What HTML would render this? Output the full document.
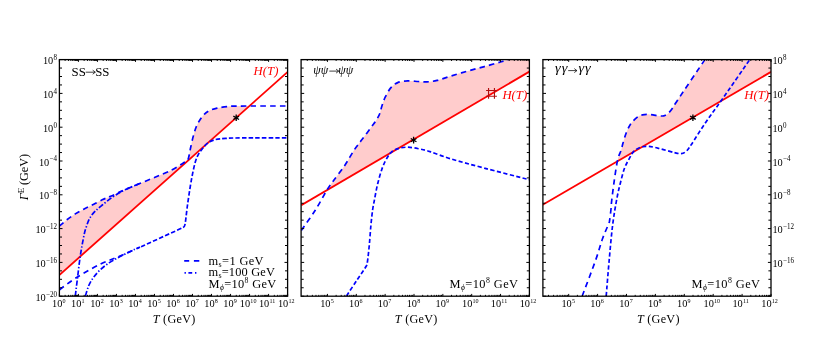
<!DOCTYPE html>
<html><head><meta charset="utf-8"><title>Rates</title>
<style>
html,body{margin:0;padding:0;background:#fff;}
body{width:830px;height:356px;position:relative;overflow:hidden;font-family:"Liberation Serif",serif;}
</style></head><body>
<svg width="830" height="356" viewBox="0 0 830 356" style="position:absolute;left:0;top:0;will-change:transform;opacity:0.999">
<defs>
<clipPath id="c0"><rect x="59.40" y="59.60" width="228.20" height="236.60"/></clipPath>
<clipPath id="c1"><rect x="301.10" y="59.60" width="228.30" height="236.60"/></clipPath>
<clipPath id="c2"><rect x="542.90" y="59.60" width="228.10" height="236.60"/></clipPath>
<clipPath id="c0a"><rect x="50" y="50" width="88" height="260"/></clipPath><clipPath id="c0b"><rect x="138" y="50" width="160" height="260"/></clipPath>
</defs>
<g clip-path="url(#c0)">
<path d="M59.30 226.10 L59.66 225.79 L60.12 225.41 L60.65 224.96 L61.24 224.45 L61.89 223.90 L62.58 223.32 L63.29 222.72 L64.03 222.10 L64.77 221.49 L65.50 220.90 L66.21 220.33 L66.90 219.80 L67.57 219.29 L68.25 218.78 L68.94 218.27 L69.64 217.76 L70.34 217.25 L71.05 216.75 L71.76 216.25 L72.47 215.76 L73.18 215.28 L73.89 214.81 L74.60 214.35 L75.30 213.90 L76.00 213.46 L76.70 213.04 L77.40 212.63 L78.10 212.23 L78.79 211.83 L79.49 211.44 L80.19 211.06 L80.89 210.69 L81.59 210.31 L82.29 209.94 L83.00 209.57 L83.70 209.20 L84.40 208.84 L85.09 208.48 L85.78 208.14 L86.47 207.80 L87.16 207.47 L87.85 207.13 L88.55 206.80 L89.25 206.46 L89.97 206.11 L90.70 205.75 L91.44 205.38 L92.20 205.00 L92.99 204.60 L93.80 204.17 L94.63 203.73 L95.48 203.28 L96.34 202.82 L97.21 202.36 L98.07 201.90 L98.93 201.44 L99.78 201.00 L100.61 200.58 L101.42 200.18 L102.20 199.80 L102.93 199.46 L103.61 199.16 L104.25 198.89 L104.86 198.64 L105.46 198.40 L106.07 198.16 L106.69 197.92 L107.35 197.66 L108.05 197.38 L108.82 197.07 L109.66 196.71 L110.60 196.30 L111.60 195.85 L112.63 195.38 L113.71 194.88 L114.82 194.36 L115.98 193.81 L117.19 193.24 L118.47 192.64 L119.80 192.02 L121.21 191.38 L122.69 190.71 L124.25 190.02 L125.90 189.30 L127.67 188.54 L129.60 187.73 L131.64 186.88 L133.78 185.99 L135.99 185.08 L138.24 184.15 L140.51 183.22 L142.77 182.29 L145.00 181.37 L147.16 180.48 L149.24 179.62 L151.20 178.80 L153.09 178.01 L154.96 177.24 L156.81 176.48 L158.63 175.73 L160.41 175.00 L162.16 174.28 L163.85 173.57 L165.49 172.88 L167.07 172.19 L168.59 171.52 L170.03 170.85 L171.40 170.20 L172.69 169.55 L173.91 168.89 L175.07 168.24 L176.16 167.60 L177.20 166.96 L178.18 166.34 L179.10 165.74 L179.97 165.17 L180.79 164.62 L181.57 164.11 L182.31 163.63 L183.00 163.20 L183.64 162.83 L184.20 162.52 L184.71 162.27 L185.16 162.06 L185.55 161.87 L185.91 161.71 L186.24 161.54 L186.53 161.37 L186.81 161.17 L187.08 160.93 L187.34 160.65 L187.60 160.30 L187.85 159.89 L188.07 159.45 L188.26 158.96 L188.43 158.45 L188.58 157.91 L188.71 157.36 L188.83 156.79 L188.95 156.22 L189.06 155.65 L189.17 155.08 L189.28 154.53 L189.40 154.00 L189.52 153.49 L189.62 153.02 L189.71 152.55 L189.80 152.10 L189.88 151.65 L189.96 151.19 L190.04 150.71 L190.13 150.21 L190.22 149.68 L190.33 149.10 L190.46 148.48 L190.60 147.80 L190.76 147.05 L190.94 146.24 L191.12 145.38 L191.32 144.47 L191.52 143.53 L191.74 142.57 L191.96 141.59 L192.18 140.62 L192.41 139.65 L192.64 138.70 L192.87 137.78 L193.10 136.90 L193.33 136.04 L193.56 135.18 L193.80 134.33 L194.04 133.48 L194.28 132.64 L194.53 131.81 L194.78 130.99 L195.04 130.19 L195.30 129.41 L195.56 128.65 L195.83 127.91 L196.10 127.20 L196.38 126.52 L196.65 125.87 L196.93 125.24 L197.21 124.63 L197.50 124.05 L197.79 123.48 L198.08 122.92 L198.39 122.37 L198.70 121.82 L199.02 121.28 L199.36 120.74 L199.70 120.20 L200.06 119.65 L200.43 119.10 L200.81 118.55 L201.20 118.00 L201.60 117.46 L202.01 116.93 L202.43 116.41 L202.84 115.91 L203.26 115.42 L203.67 114.96 L204.09 114.51 L204.50 114.10 L204.90 113.71 L205.29 113.35 L205.67 113.02 L206.06 112.70 L206.44 112.41 L206.82 112.12 L207.22 111.86 L207.63 111.60 L208.06 111.34 L208.51 111.10 L208.99 110.85 L209.50 110.60 L210.03 110.35 L210.59 110.11 L211.16 109.88 L211.75 109.66 L212.36 109.44 L212.98 109.23 L213.62 109.02 L214.29 108.82 L214.96 108.63 L215.66 108.45 L216.37 108.27 L217.10 108.10 L217.85 107.94 L218.62 107.78 L219.41 107.63 L220.22 107.49 L221.05 107.36 L221.89 107.23 L222.74 107.11 L223.61 106.99 L224.50 106.88 L225.39 106.78 L226.29 106.69 L227.20 106.60 L228.01 106.52 L228.64 106.45 L229.17 106.38 L229.64 106.33 L230.13 106.28 L230.69 106.23 L231.38 106.20 L232.27 106.16 L233.42 106.13 L234.88 106.10 L236.72 106.08 L239.00 106.05 L241.92 106.03 L245.54 106.01 L249.72 105.68 L254.30 101.61 L259.14 97.30 L264.09 92.90 L268.99 88.54 L273.71 84.35 L278.08 80.45 L281.97 76.99 L285.23 74.10 L287.70 71.90 L287.70 71.90 L59.30 275.07 Z" fill="#ffcccc" stroke="none"/>
<path d="M59.60 274.80 L287.70 71.90" fill="none" stroke="#ff0000" stroke-width="1.80"/>
<g clip-path="url(#c0a)"><path d="M59.60 289.70 C62.50 287.62 70.17 281.48 77.00 277.20 C83.83 272.92 93.85 267.35 100.60 264.00 C107.35 260.65 110.20 260.23 117.50 257.10 C124.80 253.97 135.65 249.13 144.40 245.20 C153.15 241.27 163.60 236.43 170.00 233.50 C176.40 230.57 180.33 229.02 182.80 227.60 C185.27 226.18 184.33 226.17 184.80 225.00 C185.27 223.83 185.15 223.93 185.60 220.60 C186.05 217.27 186.68 210.93 187.50 205.00 C188.32 199.07 189.60 190.47 190.50 185.00 C191.40 179.53 192.10 176.03 192.90 172.20 C193.70 168.37 194.47 164.82 195.30 162.00 C196.13 159.18 196.82 157.38 197.90 155.30 C198.98 153.22 200.23 151.48 201.80 149.50 C203.37 147.52 205.17 145.02 207.30 143.40 C209.43 141.78 211.55 140.63 214.60 139.80 C217.65 138.97 220.95 138.72 225.60 138.40 C230.25 138.08 232.15 137.98 242.50 137.90 C252.85 137.82 280.17 137.90 287.70 137.90" fill="none" stroke="#0000ff" stroke-width="1.70" stroke-dasharray="5.5 4.2"/></g>
<g clip-path="url(#c0b)"><path d="M59.60 289.70 C62.50 287.62 70.17 281.48 77.00 277.20 C83.83 272.92 93.85 267.35 100.60 264.00 C107.35 260.65 110.20 260.23 117.50 257.10 C124.80 253.97 135.65 249.13 144.40 245.20 C153.15 241.27 163.60 236.43 170.00 233.50 C176.40 230.57 180.33 229.02 182.80 227.60 C185.27 226.18 184.33 226.17 184.80 225.00 C185.27 223.83 185.15 223.93 185.60 220.60 C186.05 217.27 186.68 210.93 187.50 205.00 C188.32 199.07 189.60 190.47 190.50 185.00 C191.40 179.53 192.10 176.03 192.90 172.20 C193.70 168.37 194.47 164.82 195.30 162.00 C196.13 159.18 196.82 157.38 197.90 155.30 C198.98 153.22 200.23 151.48 201.80 149.50 C203.37 147.52 205.17 145.02 207.30 143.40 C209.43 141.78 211.55 140.63 214.60 139.80 C217.65 138.97 220.95 138.72 225.60 138.40 C230.25 138.08 232.15 137.98 242.50 137.90 C252.85 137.82 280.17 137.90 287.70 137.90" fill="none" stroke="#0000ff" stroke-width="1.70" stroke-dasharray="4.5 2.1"/></g>
<path d="M85.40 296.00 C85.97 294.25 87.40 288.67 88.80 285.50 C90.20 282.33 91.83 279.67 93.80 277.00 C95.77 274.33 98.07 271.85 100.60 269.50 C103.13 267.15 106.18 264.82 109.00 262.90 C111.82 260.98 114.67 259.55 117.50 258.00 C120.33 256.45 123.08 255.07 126.00 253.60 C128.92 252.13 132.67 250.30 135.00 249.20 C137.33 248.10 139.17 247.37 140.00 247.00" fill="none" stroke="#0000ff" stroke-width="1.70" stroke-dasharray="5.2 1.9 1.4 1.9"/>
<path d="M75.30 296.00 C75.67 293.00 76.65 284.80 77.50 278.00 C78.35 271.20 79.30 262.38 80.40 255.20 C81.50 248.02 83.12 239.62 84.10 234.90 C85.08 230.18 85.38 229.63 86.30 226.90 C87.22 224.17 88.20 221.03 89.60 218.50 C91.00 215.97 92.58 213.95 94.70 211.70 C96.82 209.45 99.35 207.42 102.30 205.00 C105.25 202.58 109.03 199.53 112.40 197.20 C115.77 194.87 119.57 192.62 122.50 191.00 C125.43 189.38 127.08 188.77 130.00 187.50 C132.92 186.23 138.33 184.08 140.00 183.40" fill="none" stroke="#0000ff" stroke-width="1.70" stroke-dasharray="5.2 1.9 1.4 1.9"/>
<path d="M59.30 226.10 C60.57 225.05 64.23 221.83 66.90 219.80 C69.57 217.77 72.50 215.67 75.30 213.90 C78.10 212.13 80.88 210.68 83.70 209.20 C86.52 207.72 89.12 206.57 92.20 205.00 C95.28 203.43 99.13 201.25 102.20 199.80 C105.27 198.35 106.65 198.05 110.60 196.30 C114.55 194.55 119.13 192.22 125.90 189.30 C132.67 186.38 143.62 181.98 151.20 178.80 C158.78 175.62 166.10 172.80 171.40 170.20 C176.70 167.60 180.30 164.85 183.00 163.20 C185.70 161.55 186.53 161.83 187.60 160.30 C188.67 158.77 188.90 156.08 189.40 154.00 C189.90 151.92 189.98 150.65 190.60 147.80 C191.22 144.95 192.18 140.33 193.10 136.90 C194.02 133.47 195.00 129.98 196.10 127.20 C197.20 124.42 198.30 122.38 199.70 120.20 C201.10 118.02 202.87 115.70 204.50 114.10 C206.13 112.50 207.40 111.60 209.50 110.60 C211.60 109.60 214.15 108.77 217.10 108.10 C220.05 107.43 223.55 106.94 227.20 106.60 C230.85 106.26 228.92 106.15 239.00 106.05 C249.08 105.95 279.58 106.01 287.70 106.00" fill="none" stroke="#0000ff" stroke-width="1.70" stroke-dasharray="5.5 4.2"/>
</g>
<g clip-path="url(#c1)">
<path d="M301.30 205.20 L301.99 204.80 L302.86 204.29 L303.89 203.68 L305.04 203.01 L306.29 202.28 L307.61 201.50 L308.97 200.71 L310.35 199.90 L311.71 199.10 L313.02 198.34 L314.26 197.61 L315.40 196.94 L316.48 196.31 L317.57 195.67 L318.65 195.04 L319.72 194.41 L320.78 193.79 L321.81 193.19 L322.82 192.60 L323.79 192.03 L324.72 191.48 L325.60 190.97 L326.43 190.48 L327.20 189.60 L327.88 188.50 L328.46 187.59 L328.95 186.83 L329.39 186.19 L329.78 185.63 L330.15 185.12 L330.52 184.63 L330.91 184.12 L331.35 183.55 L331.84 182.90 L332.42 182.13 L333.10 181.20 L333.88 180.13 L334.75 178.96 L335.69 177.72 L336.69 176.40 L337.72 175.03 L338.79 173.62 L339.86 172.19 L340.93 170.76 L341.99 169.32 L343.01 167.91 L343.99 166.53 L344.90 165.20 L345.77 163.89 L346.61 162.56 L347.44 161.23 L348.24 159.90 L349.03 158.57 L349.80 157.25 L350.56 155.95 L351.30 154.68 L352.04 153.44 L352.77 152.25 L353.49 151.10 L354.20 150.00 L354.89 148.98 L355.55 148.03 L356.19 147.15 L356.81 146.32 L357.41 145.52 L358.02 144.74 L358.63 143.97 L359.25 143.18 L359.89 142.36 L360.56 141.50 L361.26 140.59 L362.00 139.60 L362.81 138.52 L363.68 137.35 L364.60 136.11 L365.56 134.83 L366.53 133.51 L367.51 132.19 L368.48 130.89 L369.42 129.62 L370.32 128.40 L371.16 127.27 L371.92 126.22 L372.60 125.30 L373.19 124.49 L373.71 123.78 L374.17 123.14 L374.59 122.58 L374.95 122.07 L375.29 121.60 L375.59 121.16 L375.88 120.74 L376.16 120.33 L376.43 119.91 L376.71 119.47 L377.00 119.00 L377.29 118.52 L377.57 118.06 L377.83 117.62 L378.08 117.18 L378.32 116.75 L378.54 116.33 L378.76 115.89 L378.98 115.45 L379.19 115.00 L379.39 114.52 L379.60 114.03 L379.80 113.50 L380.00 112.95 L380.18 112.38 L380.35 111.80 L380.51 111.20 L380.66 110.58 L380.82 109.96 L380.98 109.32 L381.14 108.67 L381.31 108.01 L381.49 107.35 L381.69 106.68 L381.90 106.00 L382.13 105.31 L382.36 104.61 L382.59 103.90 L382.83 103.18 L383.08 102.45 L383.34 101.71 L383.61 100.97 L383.89 100.22 L384.19 99.47 L384.51 98.71 L384.84 97.95 L385.20 97.20 L385.58 96.43 L385.97 95.63 L386.39 94.82 L386.81 93.99 L387.26 93.16 L387.72 92.33 L388.19 91.52 L388.67 90.72 L389.17 89.96 L389.67 89.22 L390.18 88.54 L390.70 87.90 L391.22 87.31 L391.75 86.74 L392.28 86.21 L392.81 85.70 L393.36 85.23 L393.92 84.77 L394.50 84.35 L395.10 83.95 L395.71 83.58 L396.35 83.23 L397.01 82.90 L397.70 82.60 L398.42 82.32 L399.17 82.08 L399.95 81.87 L400.75 81.68 L401.57 81.52 L402.41 81.38 L403.26 81.26 L404.13 81.16 L404.99 81.08 L405.86 81.01 L406.73 80.95 L407.60 80.90 L408.48 80.87 L409.37 80.87 L410.29 80.89 L411.21 80.94 L412.15 81.00 L413.08 81.07 L414.01 81.15 L414.93 81.23 L415.83 81.31 L416.72 81.38 L417.57 81.45 L418.40 81.50 L419.19 81.55 L419.94 81.60 L420.67 81.66 L421.37 81.72 L422.06 81.78 L422.74 81.83 L423.42 81.88 L424.10 81.91 L424.80 81.94 L425.51 81.95 L426.24 81.93 L427.00 81.90 L427.78 81.85 L428.56 81.79 L429.34 81.72 L430.13 81.64 L430.93 81.55 L431.74 81.44 L432.57 81.32 L433.43 81.18 L434.30 81.02 L435.20 80.83 L436.13 80.63 L437.10 80.40 L438.10 80.14 L439.11 79.85 L440.16 79.54 L441.22 79.20 L442.31 78.84 L443.43 78.47 L444.56 78.08 L445.72 77.69 L446.91 77.29 L448.11 76.89 L449.35 76.49 L450.60 76.10 L451.89 75.71 L453.22 75.30 L454.59 74.89 L455.99 74.47 L457.41 74.04 L458.84 73.61 L460.29 73.18 L461.75 72.76 L463.20 72.33 L464.65 71.91 L466.08 71.50 L467.50 71.10 L468.90 70.71 L470.30 70.32 L471.70 69.95 L473.10 69.57 L474.50 69.20 L475.90 68.84 L477.30 68.47 L478.70 68.10 L480.10 67.73 L481.50 67.36 L482.90 66.98 L484.30 66.60 L485.74 66.20 L487.23 65.79 L488.76 65.36 L490.30 64.93 L491.85 64.49 L493.38 64.06 L494.88 63.63 L496.32 63.22 L497.69 62.82 L498.97 62.45 L500.15 62.11 L501.20 61.80 L502.11 61.53 L502.89 61.29 L503.56 61.09 L504.14 60.91 L504.64 60.74 L505.10 60.59 L505.53 60.45 L505.94 60.30 L506.37 60.15 L506.82 59.99 L507.33 59.81 L507.90 59.60 L508.55 59.36 L509.26 59.10 L510.02 58.82 L510.80 58.52 L511.59 58.22 L512.37 57.91 L513.13 57.62 L513.85 57.34 L514.51 57.08 L515.10 56.85 L515.60 56.65 L516.00 56.50 L516.00 49.60 L529.40 49.60 L529.40 71.60 L301.30 205.20 Z" fill="#ffcccc" stroke="none"/>
<path d="M301.30 205.20 L529.40 71.60" fill="none" stroke="#ff0000" stroke-width="1.80"/>
<path d="M346.50 296.00 C348.25 293.33 353.75 284.92 357.00 280.00 C360.25 275.08 364.27 269.50 366.00 266.50 C367.73 263.50 366.85 265.58 367.40 262.00 C367.95 258.42 368.72 251.12 369.30 245.00 C369.88 238.88 370.35 231.13 370.90 225.30 C371.45 219.47 372.03 214.12 372.60 210.00 C373.17 205.88 373.45 204.98 374.30 200.60 C375.15 196.22 376.30 189.32 377.70 183.70 C379.10 178.08 381.02 171.40 382.70 166.90 C384.38 162.40 386.38 159.13 387.80 156.70 C389.22 154.27 389.52 153.65 391.20 152.30 C392.88 150.95 395.10 149.45 397.90 148.60 C400.70 147.75 404.35 147.13 408.00 147.20 C411.65 147.27 416.13 148.27 419.80 149.00 C423.47 149.73 424.87 149.97 430.00 151.60 C435.13 153.23 441.55 156.05 450.60 158.80 C459.65 161.55 471.65 164.73 484.30 168.10 C496.95 171.47 518.98 177.05 526.50 179.00 C534.02 180.95 528.92 179.67 529.40 179.80" fill="none" stroke="#0000ff" stroke-width="1.70" stroke-dasharray="4.2 2.4"/>
<path d="M301.30 230.40 C303.65 227.00 311.08 216.80 315.40 210.00 C319.72 203.20 324.25 194.40 327.20 189.60 C330.15 184.80 330.15 185.27 333.10 181.20 C336.05 177.13 341.38 170.40 344.90 165.20 C348.42 160.00 351.35 154.27 354.20 150.00 C357.05 145.73 358.93 143.72 362.00 139.60 C365.07 135.48 370.10 128.73 372.60 125.30 C375.10 121.87 375.80 120.97 377.00 119.00 C378.20 117.03 378.98 115.67 379.80 113.50 C380.62 111.33 381.00 108.72 381.90 106.00 C382.80 103.28 383.73 100.22 385.20 97.20 C386.67 94.18 388.62 90.33 390.70 87.90 C392.78 85.47 394.88 83.77 397.70 82.60 C400.52 81.43 404.15 81.08 407.60 80.90 C411.05 80.72 415.17 81.33 418.40 81.50 C421.63 81.67 423.88 82.08 427.00 81.90 C430.12 81.72 433.17 81.37 437.10 80.40 C441.03 79.43 445.53 77.65 450.60 76.10 C455.67 74.55 461.88 72.68 467.50 71.10 C473.12 69.52 478.68 68.15 484.30 66.60 C489.92 65.05 497.27 62.97 501.20 61.80 C505.13 60.63 505.43 60.48 507.90 59.60 C510.37 58.72 514.65 57.02 516.00 56.50" fill="none" stroke="#0000ff" stroke-width="1.70" stroke-dasharray="5.5 4.2"/>
</g>
<g clip-path="url(#c2)">
<path d="M582.20 181.81 L582.87 181.41 L583.75 180.91 L584.78 180.30 L585.95 179.62 L587.21 178.89 L588.52 178.12 L589.87 177.34 L591.20 176.57 L592.48 175.82 L593.68 175.12 L594.77 174.49 L595.70 173.95 L596.50 173.48 L597.23 173.06 L597.89 172.67 L598.49 172.32 L599.04 172.00 L599.56 171.70 L600.06 171.41 L600.53 171.13 L601.01 170.86 L601.48 170.58 L601.98 170.29 L602.50 169.99 L603.05 169.67 L603.62 169.34 L604.19 169.00 L604.77 168.66 L605.35 168.33 L605.91 168.00 L606.46 167.69 L606.97 167.39 L607.45 167.11 L607.89 166.85 L608.27 166.63 L608.60 166.44 L608.86 166.29 L609.06 166.17 L609.20 166.09 L609.30 166.03 L609.36 165.99 L609.40 165.97 L609.42 165.96 L609.43 165.95 L609.45 165.94 L609.48 165.93 L609.52 165.90 L609.60 165.86 L609.70 165.80 L609.81 165.74 L609.92 165.67 L610.03 165.61 L610.15 165.54 L610.26 165.47 L610.38 165.40 L610.49 165.34 L610.60 165.27 L610.71 165.21 L610.81 165.15 L610.90 165.10 L610.98 165.05 L611.04 165.02 L611.09 164.99 L611.14 164.96 L611.18 164.94 L611.22 164.91 L611.26 164.89 L611.32 164.86 L611.39 164.82 L611.47 164.77 L611.57 164.71 L611.70 164.63 L611.85 164.54 L612.02 164.45 L612.21 164.34 L612.41 164.22 L612.62 164.10 L612.84 163.97 L613.08 163.83 L613.31 163.69 L613.56 163.55 L613.81 163.41 L614.05 163.26 L614.30 163.12 L614.55 162.97 L614.81 162.83 L615.07 162.67 L615.34 162.52 L615.61 162.36 L615.89 162.20 L616.17 162.03 L616.45 161.87 L616.74 161.70 L617.02 161.53 L617.31 161.37 L617.60 160.10 L617.90 158.89 L618.21 157.78 L618.53 156.77 L618.85 155.83 L619.18 154.97 L619.51 154.17 L619.83 153.42 L620.14 152.70 L620.43 152.01 L620.71 151.34 L620.97 150.67 L621.20 150.00 L621.40 149.36 L621.56 148.80 L621.70 148.29 L621.81 147.82 L621.91 147.38 L622.01 146.96 L622.10 146.53 L622.20 146.08 L622.31 145.60 L622.45 145.07 L622.61 144.47 L622.80 143.80 L623.02 143.05 L623.26 142.22 L623.51 141.35 L623.78 140.43 L624.06 139.47 L624.36 138.49 L624.66 137.51 L624.97 136.52 L625.30 135.54 L625.63 134.59 L625.96 133.67 L626.30 132.80 L626.64 131.96 L626.99 131.12 L627.34 130.29 L627.70 129.48 L628.07 128.67 L628.44 127.88 L628.83 127.10 L629.23 126.34 L629.65 125.60 L630.08 124.88 L630.53 124.18 L631.00 123.50 L631.50 122.84 L632.04 122.18 L632.60 121.53 L633.19 120.90 L633.80 120.28 L634.41 119.69 L635.02 119.12 L635.62 118.58 L636.21 118.08 L636.77 117.61 L637.30 117.18 L637.80 116.80 L638.26 116.47 L638.69 116.19 L639.10 115.96 L639.49 115.76 L639.87 115.60 L640.23 115.47 L640.59 115.36 L640.94 115.26 L641.29 115.17 L641.65 115.09 L642.02 115.00 L642.40 114.90 L642.78 114.80 L643.16 114.71 L643.54 114.63 L643.91 114.56 L644.29 114.50 L644.67 114.44 L645.05 114.40 L645.44 114.36 L645.84 114.34 L646.25 114.32 L646.67 114.30 L647.10 114.30 L647.55 114.31 L648.02 114.33 L648.51 114.36 L649.01 114.40 L649.51 114.45 L650.02 114.51 L650.54 114.57 L651.05 114.63 L651.55 114.70 L652.05 114.77 L652.53 114.84 L653.00 114.90 L653.46 114.97 L653.91 115.04 L654.36 115.12 L654.80 115.20 L655.24 115.29 L655.68 115.38 L656.10 115.46 L656.52 115.54 L656.93 115.62 L657.33 115.69 L657.72 115.75 L658.10 115.80 L658.47 115.84 L658.83 115.88 L659.19 115.92 L659.53 115.94 L659.87 115.97 L660.19 115.99 L660.51 116.00 L660.83 116.01 L661.13 116.02 L661.43 116.02 L661.72 116.01 L662.00 116.00 L662.27 115.99 L662.51 115.98 L662.74 115.98 L662.96 115.97 L663.17 115.96 L663.38 115.94 L663.59 115.91 L663.80 115.87 L664.03 115.81 L664.27 115.73 L664.52 115.63 L664.80 115.50 L665.10 115.35 L665.41 115.20 L665.73 115.04 L666.06 114.86 L666.41 114.66 L666.76 114.44 L667.12 114.21 L667.48 113.94 L667.85 113.66 L668.23 113.34 L668.61 112.99 L669.00 112.60 L669.40 112.17 L669.82 111.68 L670.25 111.15 L670.69 110.59 L671.14 109.99 L671.59 109.38 L672.04 108.76 L672.48 108.14 L672.91 107.52 L673.33 106.92 L673.72 106.34 L674.10 105.80 L674.38 105.39 L674.51 105.18 L674.55 105.09 L674.54 105.07 L674.51 105.06 L674.52 105.00 L674.60 104.82 L674.81 104.46 L675.18 103.86 L675.75 102.96 L676.58 101.69 L677.70 100.00 L679.21 97.74 L681.13 94.87 L683.38 91.53 L685.87 87.83 L688.53 83.88 L691.27 79.82 L694.01 75.75 L696.67 71.81 L699.17 68.10 L701.43 64.75 L703.37 61.88 L704.90 59.60 L706.06 57.87 L706.97 56.53 L707.65 55.52 L708.13 54.80 L708.45 54.32 L708.65 54.03 L708.75 53.87 L708.79 53.81 L708.80 53.79 L708.82 53.77 L708.88 53.69 L709.00 53.50 L709.00 49.60 L771.00 49.60 L771.00 71.90 L582.20 181.81 Z" fill="#ffcccc" stroke="none"/>
<path d="M542.70 204.80 L771.00 71.90" fill="none" stroke="#ff0000" stroke-width="1.80"/>
<path d="M606.20 296.00 C606.70 290.00 608.13 271.78 609.20 260.00 C610.27 248.22 611.33 235.48 612.60 225.30 C613.87 215.12 615.53 205.83 616.80 198.90 C618.07 191.97 618.93 188.77 620.20 183.70 C621.47 178.63 622.87 172.72 624.40 168.50 C625.93 164.28 627.83 161.25 629.40 158.40 C630.97 155.55 631.93 153.27 633.80 151.40 C635.67 149.53 638.07 148.03 640.60 147.20 C643.13 146.37 645.63 146.12 649.00 146.40 C652.37 146.68 656.58 147.87 660.80 148.90 C665.02 149.93 670.92 151.82 674.30 152.60 C677.68 153.38 679.13 153.80 681.10 153.60 C683.07 153.40 684.42 152.88 686.10 151.40 C687.78 149.92 687.88 149.62 691.20 144.70 C694.52 139.78 700.92 129.35 706.00 121.90 C711.08 114.45 714.40 110.38 721.70 100.00 C729.00 89.62 744.38 67.33 749.80 59.60 C755.22 51.87 753.47 54.60 754.20 53.60" fill="none" stroke="#0000ff" stroke-width="1.70" stroke-dasharray="4.2 2.4"/>
<path d="M582.20 296.00 C584.45 290.00 592.32 269.53 595.70 260.00 C599.08 250.47 600.35 244.80 602.50 238.80 C604.65 232.80 607.42 227.05 608.60 224.00 C609.78 220.95 609.22 222.83 609.60 220.50 C609.98 218.17 610.55 213.32 610.90 210.00 C611.25 206.68 611.13 205.53 611.70 200.60 C612.27 195.67 613.32 187.15 614.30 180.40 C615.28 173.65 616.45 165.17 617.60 160.10 C618.75 155.03 620.33 152.72 621.20 150.00 C622.07 147.28 621.95 146.67 622.80 143.80 C623.65 140.93 624.93 136.18 626.30 132.80 C627.67 129.42 629.08 126.17 631.00 123.50 C632.92 120.83 635.90 118.23 637.80 116.80 C639.70 115.37 640.85 115.32 642.40 114.90 C643.95 114.48 645.33 114.30 647.10 114.30 C648.87 114.30 651.17 114.65 653.00 114.90 C654.83 115.15 656.60 115.62 658.10 115.80 C659.60 115.98 660.88 116.05 662.00 116.00 C663.12 115.95 663.63 116.07 664.80 115.50 C665.97 114.93 667.45 114.22 669.00 112.60 C670.55 110.98 672.65 107.90 674.10 105.80 C675.55 103.70 672.57 107.70 677.70 100.00 C682.83 92.30 699.68 67.35 704.90 59.60 C710.12 51.85 708.32 54.52 709.00 53.50" fill="none" stroke="#0000ff" stroke-width="1.70" stroke-dasharray="5.5 4.2"/>
</g>
<path d="M236.20 114.50 L236.20 121.10 M239.06 116.15 L233.34 119.45 M239.06 119.45 L233.34 116.15 " stroke="#000" stroke-width="1.30" fill="none"/>
<path d="M413.60 136.80 L413.60 143.40 M416.46 138.45 L410.74 141.75 M416.46 141.75 L410.74 138.45 " stroke="#000" stroke-width="1.30" fill="none"/>
<path d="M692.90 114.40 L692.90 121.00 M695.76 116.05 L690.04 119.35 M695.76 119.35 L690.04 116.05 " stroke="#000" stroke-width="1.30" fill="none"/>
<path d="M488.55 88.10 V98.80 M494.45 88.10 V98.80 M486.10 90.45 H496.90 M486.10 96.25 H496.90" stroke="#b01010" stroke-width="1.15" fill="none"/>
<rect x="59.40" y="59.60" width="228.20" height="236.60" fill="none" stroke="#000" stroke-width="1.30"/>
<path d="M59.40 296.20 h3.10 M287.60 296.20 h-3.10 M59.40 287.75 h2.60 M287.60 287.75 h-2.60 M59.40 279.30 h2.60 M287.60 279.30 h-2.60 M59.40 270.85 h2.60 M287.60 270.85 h-2.60 M59.40 262.40 h3.10 M287.60 262.40 h-3.10 M59.40 253.95 h2.60 M287.60 253.95 h-2.60 M59.40 245.50 h2.60 M287.60 245.50 h-2.60 M59.40 237.05 h2.60 M287.60 237.05 h-2.60 M59.40 228.60 h3.10 M287.60 228.60 h-3.10 M59.40 220.15 h2.60 M287.60 220.15 h-2.60 M59.40 211.70 h2.60 M287.60 211.70 h-2.60 M59.40 203.25 h2.60 M287.60 203.25 h-2.60 M59.40 194.80 h3.10 M287.60 194.80 h-3.10 M59.40 186.35 h2.60 M287.60 186.35 h-2.60 M59.40 177.90 h2.60 M287.60 177.90 h-2.60 M59.40 169.45 h2.60 M287.60 169.45 h-2.60 M59.40 161.00 h3.10 M287.60 161.00 h-3.10 M59.40 152.55 h2.60 M287.60 152.55 h-2.60 M59.40 144.10 h2.60 M287.60 144.10 h-2.60 M59.40 135.65 h2.60 M287.60 135.65 h-2.60 M59.40 127.20 h3.10 M287.60 127.20 h-3.10 M59.40 118.75 h2.60 M287.60 118.75 h-2.60 M59.40 110.30 h2.60 M287.60 110.30 h-2.60 M59.40 101.85 h2.60 M287.60 101.85 h-2.60 M59.40 93.40 h3.10 M287.60 93.40 h-3.10 M59.40 84.95 h2.60 M287.60 84.95 h-2.60 M59.40 76.50 h2.60 M287.60 76.50 h-2.60 M59.40 68.05 h2.60 M287.60 68.05 h-2.60 M59.40 59.60 h3.10 M287.60 59.60 h-3.10 M59.40 296.20 v-2.30 M59.40 59.60 v2.30 M65.12 296.20 v-1.35 M65.12 59.60 v1.35 M68.47 296.20 v-1.35 M68.47 59.60 v1.35 M70.85 296.20 v-1.35 M70.85 59.60 v1.35 M72.69 296.20 v-1.35 M72.69 59.60 v1.35 M74.20 296.20 v-1.35 M74.20 59.60 v1.35 M75.47 296.20 v-1.35 M75.47 59.60 v1.35 M76.57 296.20 v-1.35 M76.57 59.60 v1.35 M77.55 296.20 v-1.35 M77.55 59.60 v1.35 M78.42 296.20 v-2.30 M78.42 59.60 v2.30 M84.14 296.20 v-1.35 M84.14 59.60 v1.35 M87.49 296.20 v-1.35 M87.49 59.60 v1.35 M89.87 296.20 v-1.35 M89.87 59.60 v1.35 M91.71 296.20 v-1.35 M91.71 59.60 v1.35 M93.21 296.20 v-1.35 M93.21 59.60 v1.35 M94.49 296.20 v-1.35 M94.49 59.60 v1.35 M95.59 296.20 v-1.35 M95.59 59.60 v1.35 M96.56 296.20 v-1.35 M96.56 59.60 v1.35 M97.43 296.20 v-2.30 M97.43 59.60 v2.30 M103.16 296.20 v-1.35 M103.16 59.60 v1.35 M106.51 296.20 v-1.35 M106.51 59.60 v1.35 M108.88 296.20 v-1.35 M108.88 59.60 v1.35 M110.73 296.20 v-1.35 M110.73 59.60 v1.35 M112.23 296.20 v-1.35 M112.23 59.60 v1.35 M113.50 296.20 v-1.35 M113.50 59.60 v1.35 M114.61 296.20 v-1.35 M114.61 59.60 v1.35 M115.58 296.20 v-1.35 M115.58 59.60 v1.35 M116.45 296.20 v-2.30 M116.45 59.60 v2.30 M122.17 296.20 v-1.35 M122.17 59.60 v1.35 M125.52 296.20 v-1.35 M125.52 59.60 v1.35 M127.90 296.20 v-1.35 M127.90 59.60 v1.35 M129.74 296.20 v-1.35 M129.74 59.60 v1.35 M131.25 296.20 v-1.35 M131.25 59.60 v1.35 M132.52 296.20 v-1.35 M132.52 59.60 v1.35 M133.62 296.20 v-1.35 M133.62 59.60 v1.35 M134.60 296.20 v-1.35 M134.60 59.60 v1.35 M135.47 296.20 v-2.30 M135.47 59.60 v2.30 M141.19 296.20 v-1.35 M141.19 59.60 v1.35 M144.54 296.20 v-1.35 M144.54 59.60 v1.35 M146.92 296.20 v-1.35 M146.92 59.60 v1.35 M148.76 296.20 v-1.35 M148.76 59.60 v1.35 M150.26 296.20 v-1.35 M150.26 59.60 v1.35 M151.54 296.20 v-1.35 M151.54 59.60 v1.35 M152.64 296.20 v-1.35 M152.64 59.60 v1.35 M153.61 296.20 v-1.35 M153.61 59.60 v1.35 M154.48 296.20 v-2.30 M154.48 59.60 v2.30 M160.21 296.20 v-1.35 M160.21 59.60 v1.35 M163.56 296.20 v-1.35 M163.56 59.60 v1.35 M165.93 296.20 v-1.35 M165.93 59.60 v1.35 M167.78 296.20 v-1.35 M167.78 59.60 v1.35 M169.28 296.20 v-1.35 M169.28 59.60 v1.35 M170.55 296.20 v-1.35 M170.55 59.60 v1.35 M171.66 296.20 v-1.35 M171.66 59.60 v1.35 M172.63 296.20 v-1.35 M172.63 59.60 v1.35 M173.50 296.20 v-2.30 M173.50 59.60 v2.30 M179.22 296.20 v-1.35 M179.22 59.60 v1.35 M182.57 296.20 v-1.35 M182.57 59.60 v1.35 M184.95 296.20 v-1.35 M184.95 59.60 v1.35 M186.79 296.20 v-1.35 M186.79 59.60 v1.35 M188.30 296.20 v-1.35 M188.30 59.60 v1.35 M189.57 296.20 v-1.35 M189.57 59.60 v1.35 M190.67 296.20 v-1.35 M190.67 59.60 v1.35 M191.65 296.20 v-1.35 M191.65 59.60 v1.35 M192.52 296.20 v-2.30 M192.52 59.60 v2.30 M198.24 296.20 v-1.35 M198.24 59.60 v1.35 M201.59 296.20 v-1.35 M201.59 59.60 v1.35 M203.97 296.20 v-1.35 M203.97 59.60 v1.35 M205.81 296.20 v-1.35 M205.81 59.60 v1.35 M207.31 296.20 v-1.35 M207.31 59.60 v1.35 M208.59 296.20 v-1.35 M208.59 59.60 v1.35 M209.69 296.20 v-1.35 M209.69 59.60 v1.35 M210.66 296.20 v-1.35 M210.66 59.60 v1.35 M211.53 296.20 v-2.30 M211.53 59.60 v2.30 M217.26 296.20 v-1.35 M217.26 59.60 v1.35 M220.61 296.20 v-1.35 M220.61 59.60 v1.35 M222.98 296.20 v-1.35 M222.98 59.60 v1.35 M224.83 296.20 v-1.35 M224.83 59.60 v1.35 M226.33 296.20 v-1.35 M226.33 59.60 v1.35 M227.60 296.20 v-1.35 M227.60 59.60 v1.35 M228.71 296.20 v-1.35 M228.71 59.60 v1.35 M229.68 296.20 v-1.35 M229.68 59.60 v1.35 M230.55 296.20 v-2.30 M230.55 59.60 v2.30 M236.27 296.20 v-1.35 M236.27 59.60 v1.35 M239.62 296.20 v-1.35 M239.62 59.60 v1.35 M242.00 296.20 v-1.35 M242.00 59.60 v1.35 M243.84 296.20 v-1.35 M243.84 59.60 v1.35 M245.35 296.20 v-1.35 M245.35 59.60 v1.35 M246.62 296.20 v-1.35 M246.62 59.60 v1.35 M247.72 296.20 v-1.35 M247.72 59.60 v1.35 M248.70 296.20 v-1.35 M248.70 59.60 v1.35 M249.57 296.20 v-2.30 M249.57 59.60 v2.30 M255.29 296.20 v-1.35 M255.29 59.60 v1.35 M258.64 296.20 v-1.35 M258.64 59.60 v1.35 M261.02 296.20 v-1.35 M261.02 59.60 v1.35 M262.86 296.20 v-1.35 M262.86 59.60 v1.35 M264.36 296.20 v-1.35 M264.36 59.60 v1.35 M265.64 296.20 v-1.35 M265.64 59.60 v1.35 M266.74 296.20 v-1.35 M266.74 59.60 v1.35 M267.71 296.20 v-1.35 M267.71 59.60 v1.35 M268.58 296.20 v-2.30 M268.58 59.60 v2.30 M274.31 296.20 v-1.35 M274.31 59.60 v1.35 M277.66 296.20 v-1.35 M277.66 59.60 v1.35 M280.03 296.20 v-1.35 M280.03 59.60 v1.35 M281.88 296.20 v-1.35 M281.88 59.60 v1.35 M283.38 296.20 v-1.35 M283.38 59.60 v1.35 M284.65 296.20 v-1.35 M284.65 59.60 v1.35 M285.76 296.20 v-1.35 M285.76 59.60 v1.35 M286.73 296.20 v-1.35 M286.73 59.60 v1.35 M287.60 296.20 v-2.30 M287.60 59.60 v2.30 " stroke="#000" stroke-width="1.0" fill="none"/>
<rect x="301.10" y="59.60" width="228.30" height="236.60" fill="none" stroke="#000" stroke-width="1.30"/>
<path d="M301.10 296.20 h3.10 M529.40 296.20 h-3.10 M301.10 287.75 h2.60 M529.40 287.75 h-2.60 M301.10 279.30 h2.60 M529.40 279.30 h-2.60 M301.10 270.85 h2.60 M529.40 270.85 h-2.60 M301.10 262.40 h3.10 M529.40 262.40 h-3.10 M301.10 253.95 h2.60 M529.40 253.95 h-2.60 M301.10 245.50 h2.60 M529.40 245.50 h-2.60 M301.10 237.05 h2.60 M529.40 237.05 h-2.60 M301.10 228.60 h3.10 M529.40 228.60 h-3.10 M301.10 220.15 h2.60 M529.40 220.15 h-2.60 M301.10 211.70 h2.60 M529.40 211.70 h-2.60 M301.10 203.25 h2.60 M529.40 203.25 h-2.60 M301.10 194.80 h3.10 M529.40 194.80 h-3.10 M301.10 186.35 h2.60 M529.40 186.35 h-2.60 M301.10 177.90 h2.60 M529.40 177.90 h-2.60 M301.10 169.45 h2.60 M529.40 169.45 h-2.60 M301.10 161.00 h3.10 M529.40 161.00 h-3.10 M301.10 152.55 h2.60 M529.40 152.55 h-2.60 M301.10 144.10 h2.60 M529.40 144.10 h-2.60 M301.10 135.65 h2.60 M529.40 135.65 h-2.60 M301.10 127.20 h3.10 M529.40 127.20 h-3.10 M301.10 118.75 h2.60 M529.40 118.75 h-2.60 M301.10 110.30 h2.60 M529.40 110.30 h-2.60 M301.10 101.85 h2.60 M529.40 101.85 h-2.60 M301.10 93.40 h3.10 M529.40 93.40 h-3.10 M301.10 84.95 h2.60 M529.40 84.95 h-2.60 M301.10 76.50 h2.60 M529.40 76.50 h-2.60 M301.10 68.05 h2.60 M529.40 68.05 h-2.60 M301.10 59.60 h3.10 M529.40 59.60 h-3.10 M307.28 296.20 v-1.35 M307.28 59.60 v1.35 M312.36 296.20 v-1.35 M312.36 59.60 v1.35 M315.97 296.20 v-1.35 M315.97 59.60 v1.35 M318.77 296.20 v-1.35 M318.77 59.60 v1.35 M321.05 296.20 v-1.35 M321.05 59.60 v1.35 M322.98 296.20 v-1.35 M322.98 59.60 v1.35 M324.65 296.20 v-1.35 M324.65 59.60 v1.35 M326.13 296.20 v-1.35 M326.13 59.60 v1.35 M327.45 296.20 v-2.30 M327.45 59.60 v2.30 M336.13 296.20 v-1.35 M336.13 59.60 v1.35 M341.21 296.20 v-1.35 M341.21 59.60 v1.35 M344.82 296.20 v-1.35 M344.82 59.60 v1.35 M347.62 296.20 v-1.35 M347.62 59.60 v1.35 M349.90 296.20 v-1.35 M349.90 59.60 v1.35 M351.83 296.20 v-1.35 M351.83 59.60 v1.35 M353.50 296.20 v-1.35 M353.50 59.60 v1.35 M354.98 296.20 v-1.35 M354.98 59.60 v1.35 M356.30 296.20 v-2.30 M356.30 59.60 v2.30 M364.98 296.20 v-1.35 M364.98 59.60 v1.35 M370.06 296.20 v-1.35 M370.06 59.60 v1.35 M373.67 296.20 v-1.35 M373.67 59.60 v1.35 M376.47 296.20 v-1.35 M376.47 59.60 v1.35 M378.75 296.20 v-1.35 M378.75 59.60 v1.35 M380.68 296.20 v-1.35 M380.68 59.60 v1.35 M382.35 296.20 v-1.35 M382.35 59.60 v1.35 M383.83 296.20 v-1.35 M383.83 59.60 v1.35 M385.15 296.20 v-2.30 M385.15 59.60 v2.30 M393.83 296.20 v-1.35 M393.83 59.60 v1.35 M398.91 296.20 v-1.35 M398.91 59.60 v1.35 M402.52 296.20 v-1.35 M402.52 59.60 v1.35 M405.32 296.20 v-1.35 M405.32 59.60 v1.35 M407.60 296.20 v-1.35 M407.60 59.60 v1.35 M409.53 296.20 v-1.35 M409.53 59.60 v1.35 M411.20 296.20 v-1.35 M411.20 59.60 v1.35 M412.68 296.20 v-1.35 M412.68 59.60 v1.35 M414.00 296.20 v-2.30 M414.00 59.60 v2.30 M422.68 296.20 v-1.35 M422.68 59.60 v1.35 M427.76 296.20 v-1.35 M427.76 59.60 v1.35 M431.37 296.20 v-1.35 M431.37 59.60 v1.35 M434.17 296.20 v-1.35 M434.17 59.60 v1.35 M436.45 296.20 v-1.35 M436.45 59.60 v1.35 M438.38 296.20 v-1.35 M438.38 59.60 v1.35 M440.05 296.20 v-1.35 M440.05 59.60 v1.35 M441.53 296.20 v-1.35 M441.53 59.60 v1.35 M442.85 296.20 v-2.30 M442.85 59.60 v2.30 M451.53 296.20 v-1.35 M451.53 59.60 v1.35 M456.61 296.20 v-1.35 M456.61 59.60 v1.35 M460.22 296.20 v-1.35 M460.22 59.60 v1.35 M463.02 296.20 v-1.35 M463.02 59.60 v1.35 M465.30 296.20 v-1.35 M465.30 59.60 v1.35 M467.23 296.20 v-1.35 M467.23 59.60 v1.35 M468.90 296.20 v-1.35 M468.90 59.60 v1.35 M470.38 296.20 v-1.35 M470.38 59.60 v1.35 M471.70 296.20 v-2.30 M471.70 59.60 v2.30 M480.38 296.20 v-1.35 M480.38 59.60 v1.35 M485.46 296.20 v-1.35 M485.46 59.60 v1.35 M489.07 296.20 v-1.35 M489.07 59.60 v1.35 M491.87 296.20 v-1.35 M491.87 59.60 v1.35 M494.15 296.20 v-1.35 M494.15 59.60 v1.35 M496.08 296.20 v-1.35 M496.08 59.60 v1.35 M497.75 296.20 v-1.35 M497.75 59.60 v1.35 M499.23 296.20 v-1.35 M499.23 59.60 v1.35 M500.55 296.20 v-2.30 M500.55 59.60 v2.30 M509.23 296.20 v-1.35 M509.23 59.60 v1.35 M514.31 296.20 v-1.35 M514.31 59.60 v1.35 M517.92 296.20 v-1.35 M517.92 59.60 v1.35 M520.72 296.20 v-1.35 M520.72 59.60 v1.35 M523.00 296.20 v-1.35 M523.00 59.60 v1.35 M524.93 296.20 v-1.35 M524.93 59.60 v1.35 M526.60 296.20 v-1.35 M526.60 59.60 v1.35 M528.08 296.20 v-1.35 M528.08 59.60 v1.35 M529.40 296.20 v-2.30 M529.40 59.60 v2.30 " stroke="#000" stroke-width="1.0" fill="none"/>
<rect x="542.90" y="59.60" width="228.10" height="236.60" fill="none" stroke="#000" stroke-width="1.30"/>
<path d="M542.90 296.20 h3.10 M771.00 296.20 h-3.10 M542.90 287.75 h2.60 M771.00 287.75 h-2.60 M542.90 279.30 h2.60 M771.00 279.30 h-2.60 M542.90 270.85 h2.60 M771.00 270.85 h-2.60 M542.90 262.40 h3.10 M771.00 262.40 h-3.10 M542.90 253.95 h2.60 M771.00 253.95 h-2.60 M542.90 245.50 h2.60 M771.00 245.50 h-2.60 M542.90 237.05 h2.60 M771.00 237.05 h-2.60 M542.90 228.60 h3.10 M771.00 228.60 h-3.10 M542.90 220.15 h2.60 M771.00 220.15 h-2.60 M542.90 211.70 h2.60 M771.00 211.70 h-2.60 M542.90 203.25 h2.60 M771.00 203.25 h-2.60 M542.90 194.80 h3.10 M771.00 194.80 h-3.10 M542.90 186.35 h2.60 M771.00 186.35 h-2.60 M542.90 177.90 h2.60 M771.00 177.90 h-2.60 M542.90 169.45 h2.60 M771.00 169.45 h-2.60 M542.90 161.00 h3.10 M771.00 161.00 h-3.10 M542.90 152.55 h2.60 M771.00 152.55 h-2.60 M542.90 144.10 h2.60 M771.00 144.10 h-2.60 M542.90 135.65 h2.60 M771.00 135.65 h-2.60 M542.90 127.20 h3.10 M771.00 127.20 h-3.10 M542.90 118.75 h2.60 M771.00 118.75 h-2.60 M542.90 110.30 h2.60 M771.00 110.30 h-2.60 M542.90 101.85 h2.60 M771.00 101.85 h-2.60 M542.90 93.40 h3.10 M771.00 93.40 h-3.10 M542.90 84.95 h2.60 M771.00 84.95 h-2.60 M542.90 76.50 h2.60 M771.00 76.50 h-2.60 M542.90 68.05 h2.60 M771.00 68.05 h-2.60 M542.90 59.60 h3.10 M771.00 59.60 h-3.10 M548.50 296.20 v-1.35 M548.50 59.60 v1.35 M553.59 296.20 v-1.35 M553.59 59.60 v1.35 M557.20 296.20 v-1.35 M557.20 59.60 v1.35 M560.00 296.20 v-1.35 M560.00 59.60 v1.35 M562.29 296.20 v-1.35 M562.29 59.60 v1.35 M564.22 296.20 v-1.35 M564.22 59.60 v1.35 M565.90 296.20 v-1.35 M565.90 59.60 v1.35 M567.38 296.20 v-1.35 M567.38 59.60 v1.35 M568.70 296.20 v-2.30 M568.70 59.60 v2.30 M577.40 296.20 v-1.35 M577.40 59.60 v1.35 M582.49 296.20 v-1.35 M582.49 59.60 v1.35 M586.10 296.20 v-1.35 M586.10 59.60 v1.35 M588.90 296.20 v-1.35 M588.90 59.60 v1.35 M591.19 296.20 v-1.35 M591.19 59.60 v1.35 M593.12 296.20 v-1.35 M593.12 59.60 v1.35 M594.80 296.20 v-1.35 M594.80 59.60 v1.35 M596.28 296.20 v-1.35 M596.28 59.60 v1.35 M597.60 296.20 v-2.30 M597.60 59.60 v2.30 M606.30 296.20 v-1.35 M606.30 59.60 v1.35 M611.39 296.20 v-1.35 M611.39 59.60 v1.35 M615.00 296.20 v-1.35 M615.00 59.60 v1.35 M617.80 296.20 v-1.35 M617.80 59.60 v1.35 M620.09 296.20 v-1.35 M620.09 59.60 v1.35 M622.02 296.20 v-1.35 M622.02 59.60 v1.35 M623.70 296.20 v-1.35 M623.70 59.60 v1.35 M625.18 296.20 v-1.35 M625.18 59.60 v1.35 M626.50 296.20 v-2.30 M626.50 59.60 v2.30 M635.20 296.20 v-1.35 M635.20 59.60 v1.35 M640.29 296.20 v-1.35 M640.29 59.60 v1.35 M643.90 296.20 v-1.35 M643.90 59.60 v1.35 M646.70 296.20 v-1.35 M646.70 59.60 v1.35 M648.99 296.20 v-1.35 M648.99 59.60 v1.35 M650.92 296.20 v-1.35 M650.92 59.60 v1.35 M652.60 296.20 v-1.35 M652.60 59.60 v1.35 M654.08 296.20 v-1.35 M654.08 59.60 v1.35 M655.40 296.20 v-2.30 M655.40 59.60 v2.30 M664.10 296.20 v-1.35 M664.10 59.60 v1.35 M669.19 296.20 v-1.35 M669.19 59.60 v1.35 M672.80 296.20 v-1.35 M672.80 59.60 v1.35 M675.60 296.20 v-1.35 M675.60 59.60 v1.35 M677.89 296.20 v-1.35 M677.89 59.60 v1.35 M679.82 296.20 v-1.35 M679.82 59.60 v1.35 M681.50 296.20 v-1.35 M681.50 59.60 v1.35 M682.98 296.20 v-1.35 M682.98 59.60 v1.35 M684.30 296.20 v-2.30 M684.30 59.60 v2.30 M693.00 296.20 v-1.35 M693.00 59.60 v1.35 M698.09 296.20 v-1.35 M698.09 59.60 v1.35 M701.70 296.20 v-1.35 M701.70 59.60 v1.35 M704.50 296.20 v-1.35 M704.50 59.60 v1.35 M706.79 296.20 v-1.35 M706.79 59.60 v1.35 M708.72 296.20 v-1.35 M708.72 59.60 v1.35 M710.40 296.20 v-1.35 M710.40 59.60 v1.35 M711.88 296.20 v-1.35 M711.88 59.60 v1.35 M713.20 296.20 v-2.30 M713.20 59.60 v2.30 M721.90 296.20 v-1.35 M721.90 59.60 v1.35 M726.99 296.20 v-1.35 M726.99 59.60 v1.35 M730.60 296.20 v-1.35 M730.60 59.60 v1.35 M733.40 296.20 v-1.35 M733.40 59.60 v1.35 M735.69 296.20 v-1.35 M735.69 59.60 v1.35 M737.62 296.20 v-1.35 M737.62 59.60 v1.35 M739.30 296.20 v-1.35 M739.30 59.60 v1.35 M740.78 296.20 v-1.35 M740.78 59.60 v1.35 M742.10 296.20 v-2.30 M742.10 59.60 v2.30 M750.80 296.20 v-1.35 M750.80 59.60 v1.35 M755.89 296.20 v-1.35 M755.89 59.60 v1.35 M759.50 296.20 v-1.35 M759.50 59.60 v1.35 M762.30 296.20 v-1.35 M762.30 59.60 v1.35 M764.59 296.20 v-1.35 M764.59 59.60 v1.35 M766.52 296.20 v-1.35 M766.52 59.60 v1.35 M768.20 296.20 v-1.35 M768.20 59.60 v1.35 M769.68 296.20 v-1.35 M769.68 59.60 v1.35 M771.00 296.20 v-2.30 M771.00 59.60 v2.30 " stroke="#000" stroke-width="1.0" fill="none"/>
<path d="M184.2 260.8 H189.2 M193.9 260.8 H199.3" stroke="#0000ff" stroke-width="1.70" fill="none"/>
<path d="M184.5 272.8 H185.9 M188.4 272.8 H192.2 M195.0 272.8 H196.4" stroke="#0000ff" stroke-width="1.70" fill="none"/>
<g transform="translate(52.10,307.30) scale(0.94,1)"><text x="0" y="0" text-anchor="start" style="font-family:'Liberation Serif',serif;font-size:11px">10<tspan dx="0.2" dy="-4.8" style="font-size:6.5px">0</tspan></text></g>
<g transform="translate(71.12,307.30) scale(0.94,1)"><text x="0" y="0" text-anchor="start" style="font-family:'Liberation Serif',serif;font-size:11px">10<tspan dx="0.2" dy="-4.8" style="font-size:6.5px">1</tspan></text></g>
<g transform="translate(90.13,307.30) scale(0.94,1)"><text x="0" y="0" text-anchor="start" style="font-family:'Liberation Serif',serif;font-size:11px">10<tspan dx="0.2" dy="-4.8" style="font-size:6.5px">2</tspan></text></g>
<g transform="translate(109.15,307.30) scale(0.94,1)"><text x="0" y="0" text-anchor="start" style="font-family:'Liberation Serif',serif;font-size:11px">10<tspan dx="0.2" dy="-4.8" style="font-size:6.5px">3</tspan></text></g>
<g transform="translate(128.17,307.30) scale(0.94,1)"><text x="0" y="0" text-anchor="start" style="font-family:'Liberation Serif',serif;font-size:11px">10<tspan dx="0.2" dy="-4.8" style="font-size:6.5px">4</tspan></text></g>
<g transform="translate(147.18,307.30) scale(0.94,1)"><text x="0" y="0" text-anchor="start" style="font-family:'Liberation Serif',serif;font-size:11px">10<tspan dx="0.2" dy="-4.8" style="font-size:6.5px">5</tspan></text></g>
<g transform="translate(166.20,307.30) scale(0.94,1)"><text x="0" y="0" text-anchor="start" style="font-family:'Liberation Serif',serif;font-size:11px">10<tspan dx="0.2" dy="-4.8" style="font-size:6.5px">6</tspan></text></g>
<g transform="translate(185.22,307.30) scale(0.94,1)"><text x="0" y="0" text-anchor="start" style="font-family:'Liberation Serif',serif;font-size:11px">10<tspan dx="0.2" dy="-4.8" style="font-size:6.5px">7</tspan></text></g>
<g transform="translate(204.23,307.30) scale(0.94,1)"><text x="0" y="0" text-anchor="start" style="font-family:'Liberation Serif',serif;font-size:11px">10<tspan dx="0.2" dy="-4.8" style="font-size:6.5px">8</tspan></text></g>
<g transform="translate(223.25,307.30) scale(0.94,1)"><text x="0" y="0" text-anchor="start" style="font-family:'Liberation Serif',serif;font-size:11px">10<tspan dx="0.2" dy="-4.8" style="font-size:6.5px">9</tspan></text></g>
<g transform="translate(239.87,307.30) scale(0.94,1)"><text x="0" y="0" text-anchor="start" style="font-family:'Liberation Serif',serif;font-size:11px">10<tspan dx="0.2" dy="-4.8" style="font-size:6.5px">10</tspan></text></g>
<g transform="translate(258.88,307.30) scale(0.94,1)"><text x="0" y="0" text-anchor="start" style="font-family:'Liberation Serif',serif;font-size:11px">10<tspan dx="0.2" dy="-4.8" style="font-size:6.5px">11</tspan></text></g>
<g transform="translate(277.90,307.30) scale(0.94,1)"><text x="0" y="0" text-anchor="start" style="font-family:'Liberation Serif',serif;font-size:11px">10<tspan dx="0.2" dy="-4.8" style="font-size:6.5px">12</tspan></text></g>
<g transform="translate(320.15,307.30) scale(0.94,1)"><text x="0" y="0" text-anchor="start" style="font-family:'Liberation Serif',serif;font-size:11px">10<tspan dx="0.2" dy="-4.8" style="font-size:6.5px">5</tspan></text></g>
<g transform="translate(349.00,307.30) scale(0.94,1)"><text x="0" y="0" text-anchor="start" style="font-family:'Liberation Serif',serif;font-size:11px">10<tspan dx="0.2" dy="-4.8" style="font-size:6.5px">6</tspan></text></g>
<g transform="translate(377.85,307.30) scale(0.94,1)"><text x="0" y="0" text-anchor="start" style="font-family:'Liberation Serif',serif;font-size:11px">10<tspan dx="0.2" dy="-4.8" style="font-size:6.5px">7</tspan></text></g>
<g transform="translate(406.70,307.30) scale(0.94,1)"><text x="0" y="0" text-anchor="start" style="font-family:'Liberation Serif',serif;font-size:11px">10<tspan dx="0.2" dy="-4.8" style="font-size:6.5px">8</tspan></text></g>
<g transform="translate(435.55,307.30) scale(0.94,1)"><text x="0" y="0" text-anchor="start" style="font-family:'Liberation Serif',serif;font-size:11px">10<tspan dx="0.2" dy="-4.8" style="font-size:6.5px">9</tspan></text></g>
<g transform="translate(462.00,307.30) scale(0.94,1)"><text x="0" y="0" text-anchor="start" style="font-family:'Liberation Serif',serif;font-size:11px">10<tspan dx="0.2" dy="-4.8" style="font-size:6.5px">10</tspan></text></g>
<g transform="translate(490.85,307.30) scale(0.94,1)"><text x="0" y="0" text-anchor="start" style="font-family:'Liberation Serif',serif;font-size:11px">10<tspan dx="0.2" dy="-4.8" style="font-size:6.5px">11</tspan></text></g>
<g transform="translate(519.70,307.30) scale(0.94,1)"><text x="0" y="0" text-anchor="start" style="font-family:'Liberation Serif',serif;font-size:11px">10<tspan dx="0.2" dy="-4.8" style="font-size:6.5px">12</tspan></text></g>
<g transform="translate(561.40,307.30) scale(0.94,1)"><text x="0" y="0" text-anchor="start" style="font-family:'Liberation Serif',serif;font-size:11px">10<tspan dx="0.2" dy="-4.8" style="font-size:6.5px">5</tspan></text></g>
<g transform="translate(590.30,307.30) scale(0.94,1)"><text x="0" y="0" text-anchor="start" style="font-family:'Liberation Serif',serif;font-size:11px">10<tspan dx="0.2" dy="-4.8" style="font-size:6.5px">6</tspan></text></g>
<g transform="translate(619.20,307.30) scale(0.94,1)"><text x="0" y="0" text-anchor="start" style="font-family:'Liberation Serif',serif;font-size:11px">10<tspan dx="0.2" dy="-4.8" style="font-size:6.5px">7</tspan></text></g>
<g transform="translate(648.10,307.30) scale(0.94,1)"><text x="0" y="0" text-anchor="start" style="font-family:'Liberation Serif',serif;font-size:11px">10<tspan dx="0.2" dy="-4.8" style="font-size:6.5px">8</tspan></text></g>
<g transform="translate(677.00,307.30) scale(0.94,1)"><text x="0" y="0" text-anchor="start" style="font-family:'Liberation Serif',serif;font-size:11px">10<tspan dx="0.2" dy="-4.8" style="font-size:6.5px">9</tspan></text></g>
<g transform="translate(703.50,307.30) scale(0.94,1)"><text x="0" y="0" text-anchor="start" style="font-family:'Liberation Serif',serif;font-size:11px">10<tspan dx="0.2" dy="-4.8" style="font-size:6.5px">10</tspan></text></g>
<g transform="translate(732.40,307.30) scale(0.94,1)"><text x="0" y="0" text-anchor="start" style="font-family:'Liberation Serif',serif;font-size:11px">10<tspan dx="0.2" dy="-4.8" style="font-size:6.5px">11</tspan></text></g>
<g transform="translate(761.30,307.30) scale(0.94,1)"><text x="0" y="0" text-anchor="start" style="font-family:'Liberation Serif',serif;font-size:11px">10<tspan dx="0.2" dy="-4.8" style="font-size:6.5px">12</tspan></text></g>
<g transform="translate(57.00,300.80) scale(0.94,1)"><text x="0" y="0" text-anchor="end" style="font-family:'Liberation Serif',serif;font-size:11px">10<tspan dx="0.3" dy="-4.2" style="font-size:7.5px">−20</tspan></text></g>
<g transform="translate(57.00,267.00) scale(0.94,1)"><text x="0" y="0" text-anchor="end" style="font-family:'Liberation Serif',serif;font-size:11px">10<tspan dx="0.3" dy="-4.2" style="font-size:7.5px">−16</tspan></text></g>
<g transform="translate(57.00,233.20) scale(0.94,1)"><text x="0" y="0" text-anchor="end" style="font-family:'Liberation Serif',serif;font-size:11px">10<tspan dx="0.3" dy="-4.2" style="font-size:7.5px">−12</tspan></text></g>
<g transform="translate(57.00,199.40) scale(0.94,1)"><text x="0" y="0" text-anchor="end" style="font-family:'Liberation Serif',serif;font-size:11px">10<tspan dx="0.3" dy="-4.2" style="font-size:7.5px">−8</tspan></text></g>
<g transform="translate(57.00,165.60) scale(0.94,1)"><text x="0" y="0" text-anchor="end" style="font-family:'Liberation Serif',serif;font-size:11px">10<tspan dx="0.3" dy="-4.2" style="font-size:7.5px">−4</tspan></text></g>
<g transform="translate(57.00,131.80) scale(0.94,1)"><text x="0" y="0" text-anchor="end" style="font-family:'Liberation Serif',serif;font-size:11px">10<tspan dx="0.3" dy="-4.2" style="font-size:7.5px">0</tspan></text></g>
<g transform="translate(57.00,98.00) scale(0.94,1)"><text x="0" y="0" text-anchor="end" style="font-family:'Liberation Serif',serif;font-size:11px">10<tspan dx="0.3" dy="-4.2" style="font-size:7.5px">4</tspan></text></g>
<g transform="translate(57.00,64.20) scale(0.94,1)"><text x="0" y="0" text-anchor="end" style="font-family:'Liberation Serif',serif;font-size:11px">10<tspan dx="0.3" dy="-4.2" style="font-size:7.5px">8</tspan></text></g>
<g transform="translate(772.40,267.00) scale(0.94,1)"><text x="0" y="0" text-anchor="start" style="font-family:'Liberation Serif',serif;font-size:11px">10<tspan dx="0.3" dy="-4.2" style="font-size:7.5px">−16</tspan></text></g>
<g transform="translate(772.40,233.20) scale(0.94,1)"><text x="0" y="0" text-anchor="start" style="font-family:'Liberation Serif',serif;font-size:11px">10<tspan dx="0.3" dy="-4.2" style="font-size:7.5px">−12</tspan></text></g>
<g transform="translate(772.40,199.40) scale(0.94,1)"><text x="0" y="0" text-anchor="start" style="font-family:'Liberation Serif',serif;font-size:11px">10<tspan dx="0.3" dy="-4.2" style="font-size:7.5px">−8</tspan></text></g>
<g transform="translate(772.40,165.60) scale(0.94,1)"><text x="0" y="0" text-anchor="start" style="font-family:'Liberation Serif',serif;font-size:11px">10<tspan dx="0.3" dy="-4.2" style="font-size:7.5px">−4</tspan></text></g>
<g transform="translate(772.40,131.80) scale(0.94,1)"><text x="0" y="0" text-anchor="start" style="font-family:'Liberation Serif',serif;font-size:11px">10<tspan dx="0.3" dy="-4.2" style="font-size:7.5px">0</tspan></text></g>
<g transform="translate(772.40,98.00) scale(0.94,1)"><text x="0" y="0" text-anchor="start" style="font-family:'Liberation Serif',serif;font-size:11px">10<tspan dx="0.3" dy="-4.2" style="font-size:7.5px">4</tspan></text></g>
<g transform="translate(772.40,64.20) scale(0.94,1)"><text x="0" y="0" text-anchor="start" style="font-family:'Liberation Serif',serif;font-size:11px">10<tspan dx="0.3" dy="-4.2" style="font-size:7.5px">8</tspan></text></g>
<text x="152.70" y="322.8" style="font-family:'Liberation Serif',serif;font-size:12.2px" textLength="42.6" lengthAdjust="spacing"><tspan font-style="italic">T</tspan> (GeV)</text>
<text x="394.80" y="322.8" style="font-family:'Liberation Serif',serif;font-size:12.2px" textLength="42.6" lengthAdjust="spacing"><tspan font-style="italic">T</tspan> (GeV)</text>
<text x="636.90" y="322.8" style="font-family:'Liberation Serif',serif;font-size:12.2px" textLength="42.6" lengthAdjust="spacing"><tspan font-style="italic">T</tspan> (GeV)</text>
<text transform="translate(28.2,200.2) rotate(-90)" style="font-family:'Liberation Serif',serif;font-size:12.2px" textLength="46.2" lengthAdjust="spacing"><tspan font-style="italic">Γ</tspan><tspan dy="-4.6" style="font-size:9px">E</tspan><tspan dy="4.6"> (GeV)</tspan></text>
<g transform="translate(71.5,75.8) scale(0.965,1)"><text x="0" y="0" style="font-family:'Liberation Serif',serif;font-size:13.3px">SS</text></g>
<path d="M85.70 72.20 H95.30 M92.70 70.20 L95.30 72.20 L92.70 74.20" stroke="#000" stroke-width="0.75" fill="none" stroke-linejoin="miter"/>
<g transform="translate(95.2,75.8) scale(0.965,1)"><text x="0" y="0" style="font-family:'Liberation Serif',serif;font-size:13.3px">SS</text></g>
<g transform="translate(313.3,74.0) scale(0.92,1)"><text x="0" y="0" style="font-family:'Liberation Serif',serif;font-size:13px;font-style:italic">ψψ</text></g>
<path d="M329.30 71.10 H338.70 M336.10 69.10 L338.70 71.10 L336.10 73.10" stroke="#000" stroke-width="0.75" fill="none" stroke-linejoin="miter"/>
<g transform="translate(338.3,74.0) scale(0.92,1)"><text x="0" y="0" style="font-family:'Liberation Serif',serif;font-size:13px;font-style:italic">ψψ</text></g>
<g transform="translate(555.0,72.3) scale(1.16,1)"><text x="0" y="0" style="font-family:'Liberation Serif',serif;font-size:12.5px;font-style:italic" textLength="10.7" lengthAdjust="spacing">γγ</text></g>
<path d="M568.20 70.60 H576.90 M574.30 68.60 L576.90 70.60 L574.30 72.60" stroke="#000" stroke-width="0.75" fill="none" stroke-linejoin="miter"/>
<g transform="translate(578.4,72.3) scale(1.16,1)"><text x="0" y="0" style="font-family:'Liberation Serif',serif;font-size:12.5px;font-style:italic" textLength="10.7" lengthAdjust="spacing">γγ</text></g>
<text x="253.6" y="74.9" style="font-family:'Liberation Serif',serif;font-size:13.4px;font-style:italic" fill="#ff0000" textLength="24.8" lengthAdjust="spacingAndGlyphs">H(T)</text>
<text x="502.4" y="98.6" style="font-family:'Liberation Serif',serif;font-size:13.4px;font-style:italic" fill="#ff0000" textLength="24.8" lengthAdjust="spacingAndGlyphs">H(T)</text>
<text x="744.3" y="98.6" style="font-family:'Liberation Serif',serif;font-size:13.4px;font-style:italic" fill="#ff0000" textLength="24.8" lengthAdjust="spacingAndGlyphs">H(T)</text>
<text x="208.6" y="264.7" style="font-family:'Liberation Serif',serif;font-size:12.4px" textLength="54.9" lengthAdjust="spacing">m<tspan dy="1.8" style="font-size:8px">s</tspan><tspan dy="-1.8">=1 GeV</tspan></text>
<text x="208.6" y="276.3" style="font-family:'Liberation Serif',serif;font-size:12.4px" textLength="66.3" lengthAdjust="spacing">m<tspan dy="1.8" style="font-size:8px">s</tspan><tspan dy="-1.8">=100 GeV</tspan></text>
<text x="208.60" y="288.00" style="font-family:'Liberation Serif',serif;font-size:12.4px" textLength="67.6" lengthAdjust="spacing">M<tspan dy="2.0" style="font-size:7.6px;font-style:italic">ϕ</tspan><tspan dy="-2.0">=10</tspan><tspan dy="-4.8" style="font-size:7.8px">8</tspan><tspan dy="4.8"> GeV</tspan></text>
<text x="449.60" y="288.00" style="font-family:'Liberation Serif',serif;font-size:12.4px" textLength="68.4" lengthAdjust="spacing">M<tspan dy="2.0" style="font-size:7.6px;font-style:italic">ϕ</tspan><tspan dy="-2.0">=10</tspan><tspan dy="-4.8" style="font-size:7.8px">8</tspan><tspan dy="4.8"> GeV</tspan></text>
<text x="691.60" y="288.00" style="font-family:'Liberation Serif',serif;font-size:12.4px" textLength="68.4" lengthAdjust="spacing">M<tspan dy="2.0" style="font-size:7.6px;font-style:italic">ϕ</tspan><tspan dy="-2.0">=10</tspan><tspan dy="-4.8" style="font-size:7.8px">8</tspan><tspan dy="4.8"> GeV</tspan></text>
</svg>
</body></html>
